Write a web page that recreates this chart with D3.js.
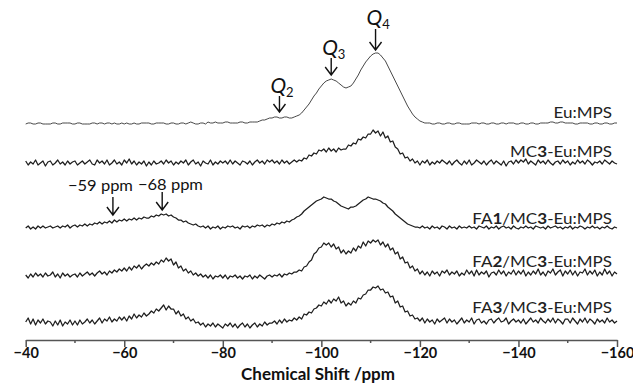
<!DOCTYPE html>
<html>
<head>
<meta charset="utf-8">
<script src="https://cdn.jsdelivr.net/npm/d3@7"></script>
<style>
  body { margin: 0; background: #fff; }
  svg { display: block; }
</style>
</head>
<body>
<div id="chart"></div>
<script>
// chemical shift grid, -40 .. -160 ppm, 0.5 ppm step
var shiftStart = -40, shiftStep = -0.5;

// spectrum intensities (a.u.), 10 values = 5 ppm
var euMPS = [
  0,1,1,0,0,1,1,0,0,0, 0,1,1,0,0,1,1,1,1,0, 0,1,1,0,0,0,0,1,1,0, 1,1,0,1,1,0,1,0,0,1,
  0,1,0,0,1,0,0,1,1,1, 1,0,0,1,1,1,1,0,0,1, 1,0,0,1,1,0,1,2,1,0, 0,1,1,0,2,1,1,2,1,1,
  1,2,2,1,1,1,1,2,2,1, 1,2,2,2,2,3,4,4,5,6, 6,7,7,6,6,7,7,6,6,7, 8,9,11,14,17,20,24,28,31,35,
  38,41,43,44,45,44,43,41,39,37, 36,37,38,41,45,49,54,58,62,65, 68,70,71,71,69,66,63,58,53,48, 43,38,33,28,23,18,14,10,7,5,
  3,2,1,1,1,0,0,1,1,0, 0,1,1,0,0,1,1,0,0,0, 0,1,1,1,0,1,1,0,0,1, 1,0,0,1,1,0,1,1,1,0,
  0,1,1,0,0,1,1,0,0,1, 1,1,1,2,2,1,1,2,2,1, 1,1,1,0,0,1,1,1,1,0, 0,1,1,0,0,1,1,0,0,1,
  1];

var mc3 = [
  2,-2,1,-1,3,-2,0,2,-3,1, 2,-2,0,3,-1,1,-2,2,-1,1, 2,-2,0,2,-1,1,3,-1,-2,3, 0,2,-1,3,-2,0,3,-1,1,-2,
  3,0,4,-1,2,-2,1,-1,2,-3, 1,-2,2,-1,0,2,-1,3,0,2, -2,1,-1,2,0,3,-2,1,3,-1, 1,-3,2,0,-1,3,-2,1,-1,2,
  0,2,-1,3,-1,2,0,-2,2,1, -1,2,-2,1,3,0,2,-1,3,1, 3,0,2,-1,3,0,2,-1,1,3, 1,3,2,5,4,8,7,10,9,13,
  12,14,11,15,12,14,11,15,13,14, 14,18,17,20,19,24,23,26,25,29, 29,33,30,32,27,31,25,27,21,22, 16,14,9,10,5,6,2,4,0,2,
  -2,2,0,3,-2,1,-1,2,0,3, 1,-1,2,-2,1,3,0,-2,2,-1, 3,-2,0,3,1,-1,2,-2,1,3, -1,2,0,-2,2,-3,1,2,-1,3,
  0,3,1,4,-1,2,0,-2,3,0, 2,-1,3,0,-2,1,2,-1,3,0, 2,-2,1,-1,3,0,2,-1,3,1, -2,1,0,2,-1,3,1,-1,2,0,
  -1];

var fa1 = [
  0,2,-1,1,-1,2,0,2,0,1, 2,0,1,2,0,2,1,3,0,2, 3,1,3,2,4,2,4,3,5,4, 6,4,6,5,7,5,8,6,8,7,
  9,7,9,8,10,8,10,9,11,10, 10,12,11,13,12,14,13,14,12,13, 11,10,8,8,6,7,5,4,3,4, 2,1,2,0,2,-1,1,0,2,-1,
  1,0,2,1,2,0,1,-1,2,1, 2,0,2,1,3,2,3,1,3,2, 4,3,5,4,6,5,7,6,8,9, 11,12,14,17,19,21,23,25,27,28,
  29,31,30,29,29,27,26,24,22,21, 20,19,21,21,22,24,26,28,29,31, 30,29,29,28,27,25,24,21,19,17, 14,12,10,8,6,4,3,2,1,1,
  0,2,0,1,-1,2,0,1,-1,2, 1,-1,2,0,1,-1,2,0,1,0, 2,0,1,-1,2,1,0,2,-1,1, 0,2,-1,1,2,0,1,-1,2,0,
  -1,1,0,2,0,1,-1,2,1,0, 1,-1,2,0,1,2,0,1,-1,1, 0,2,-1,1,0,2,1,-1,1,0, 2,0,1,-1,1,0,2,0,-1,1,
  0];

var fa2 = [
  2,-1,3,0,4,1,3,0,4,1, 2,5,0,3,-1,4,1,3,0,2, 3,0,4,1,3,5,2,4,1,4, 6,3,5,2,6,4,7,5,8,6,
  9,6,10,7,11,9,12,8,11,13, 11,14,12,15,13,17,15,19,16,18, 12,15,9,11,6,8,4,6,2,4, 1,3,0,2,-1,2,-2,1,0,2,
  -1,2,-2,1,0,2,-1,1,-2,1, 0,2,-2,1,-1,2,0,-2,1,2, 0,2,1,3,0,3,2,4,3,5, 5,7,6,10,11,15,17,23,25,29,
  30,34,32,34,30,33,28,30,24,27, 23,26,24,29,26,31,29,35,31,36, 34,37,35,37,32,35,30,33,27,29, 23,25,18,20,14,15,9,11,6,8,
  3,6,2,5,1,6,3,5,1,6, 4,7,2,5,3,6,1,4,2,7, 3,6,1,7,2,5,3,6,0,4, 5,2,7,3,6,1,5,3,7,2,
  6,3,7,1,5,2,6,3,8,2, 5,1,6,4,8,2,5,7,1,6, 3,7,2,6,1,5,4,8,2,6, 3,7,1,5,2,8,3,6,1,5,
  3];

var fa3 = [
  3,7,1,6,0,5,2,6,1,4, 3,-1,4,0,5,-1,3,1,5,0, 4,0,5,1,3,6,2,5,1,4, 7,2,6,4,8,3,6,4,8,5,
  8,4,9,6,11,7,10,8,12,9, 11,14,12,16,14,17,20,15,19,16, 16,11,14,9,11,6,8,4,6,2, 3,0,2,-2,1,-1,2,-2,1,-1,
  -3,1,-1,2,-2,1,-3,0,2,-2, 1,-3,0,2,-2,1,-1,3,0,2, 2,4,1,5,2,6,3,5,4,7, 5,8,6,11,10,13,12,16,17,20,
  19,23,21,25,22,26,24,28,22,24, 19,22,20,24,22,27,26,30,31,35, 35,38,37,39,35,36,32,33,28,29, 22,24,18,19,13,14,9,10,6,7,
  4,7,2,6,3,5,1,6,3,5, 7,2,6,3,5,1,4,7,2,5, 3,7,1,5,6,2,4,1,5,6, 2,5,7,3,4,7,1,4,6,3,
  5,2,6,1,4,7,3,5,2,7, 4,2,6,3,7,2,6,4,1,6, 6,2,7,4,1,6,3,7,2,6, 4,1,6,3,5,2,7,3,5,2,
  4];

var seriesNames = ["Eu:MPS", "MC3-Eu:MPS", "FA1/MC3-Eu:MPS", "FA2/MC3-Eu:MPS", "FA3/MC3-Eu:MPS"];
var seriesValues = [euMPS, mc3, fa1, fa2, fa3];

var xTicks = [-40, -60, -80, -100, -120, -140, -160];
var xMinorTicks = [-50, -70, -90, -110, -130, -150];

// peak annotations (ppm)
var qPeaks = [{q: "2", ppm: -91.5}, {q: "3", ppm: -102}, {q: "4", ppm: -111}];
var ppmMarks = [-57.7, -67.7];
var ppmLabels = ["\u221259 ppm", "\u221268 ppm"];

var width = 633, height = 385;
var font = "Lato, 'Open Sans', sans-serif";

var svg = d3.select("#chart").append("svg")
  .attr("width", width)
  .attr("height", height);

var x = d3.scaleLinear().domain([-40, -160]).range([25.7, 617]);
var y = d3.scaleLinear().domain([0, 80]).range([0, -80]);

// baseline of each stacked trace
var baselines = [124, 163, 228, 277, 325];
var labelY = [118, 157, 224, 267, 313];

var line = d3.line()
  .x(function(d, i) { return x(shiftStart + i * shiftStep); })
  .y(function(d) { return y(d); });

seriesValues.forEach(function(vals, k) {
  svg.append("path")
    .datum(vals)
    .attr("transform", "translate(0," + baselines[k] + ")")
    .attr("d", line)
    .attr("fill", "none")
    .attr("stroke", k === 0 ? "#333" : "#1e1e1e")
    .attr("stroke-width", k === 0 ? 0.9 : 1.25)
    .attr("stroke-linejoin", "round");
});

// trace labels with bold compound numbers
seriesNames.forEach(function(name, k) {
  var t = svg.append("text")
    .attr("transform", "translate(612," + labelY[k] + ") scale(1.1,1)")
    .attr("text-anchor", "end")
    .attr("font-family", font)
    .attr("font-size", "15.5px")
    .attr("fill", "#222");
  name.split(/(\d)/).forEach(function(part) {
    if (part === "") return;
    t.append("tspan")
      .attr("font-weight", /\d/.test(part) ? "bold" : "normal")
      .text(part);
  });
});

// x axis
var axis = svg.append("g")
  .attr("transform", "translate(0,340)")
  .call(d3.axisBottom(x).tickValues(xTicks).tickSize(7).tickSizeOuter(0));
axis.select(".domain").attr("stroke", "#555").attr("stroke-width", 1.5);
axis.selectAll(".tick line").attr("stroke", "#555").attr("stroke-width", 1.5);
axis.selectAll(".tick text")
  .attr("y", 18)
  .attr("dy", null)
  .attr("font-family", font)
  .attr("font-weight", "bold")
  .attr("font-size", "14.5px")
  .attr("fill", "#111");

svg.append("g").selectAll("line")
  .data(xMinorTicks)
  .enter().append("line")
  .attr("x1", function(d) { return x(d); })
  .attr("x2", function(d) { return x(d); })
  .attr("y1", 340)
  .attr("y2", 343)
  .attr("stroke", "#555")
  .attr("stroke-width", 1.5);

svg.append("text")
  .attr("x", 318)
  .attr("y", 380)
  .attr("text-anchor", "middle")
  .attr("font-family", font)
  .attr("font-weight", "bold")
  .attr("font-size", "17px")
  .attr("fill", "#111")
  .text("Chemical Shift /ppm");

function arrow(px, y1, y2) {
  svg.append("path")
    .attr("d", "M" + px + "," + y1 + "V" + y2 + "M" + (px - 6) + "," + (y2 - 8) + "L" + px + "," + y2 + "L" + (px + 6) + "," + (y2 - 8))
    .attr("fill", "none")
    .attr("stroke", "#111")
    .attr("stroke-width", 1.4);
}

// Q labels
var qTop = [[93, 96, 112], [55, 58, 75], [25, 29, 50]];
qPeaks.forEach(function(p, i) {
  var px = x(p.ppm);
  var t = svg.append("text")
    .attr("x", px - 9)
    .attr("y", qTop[i][0])
    .attr("font-family", font)
    .attr("font-size", "21px")
    .attr("fill", "#111");
  t.append("tspan").attr("font-style", "italic").text("Q");
  t.append("tspan").attr("font-size", "13px").attr("dy", 4).text(p.q);
  arrow(px, qTop[i][1], qTop[i][2]);
});

// ppm annotations on FA1 trace
svg.append("text")
  .attr("transform", "translate(68,191) scale(1.1,1)")
  .attr("font-family", font)
  .attr("font-size", "15px")
  .attr("fill", "#111")
  .text(ppmLabels[0]);
svg.append("text")
  .attr("transform", "translate(138,190) scale(1.1,1)")
  .attr("font-family", font)
  .attr("font-size", "15px")
  .attr("fill", "#111")
  .text(ppmLabels[1]);
arrow(x(ppmMarks[0]), 197, 215);
arrow(x(ppmMarks[1]), 192, 210);
</script>
</body>
</html>
